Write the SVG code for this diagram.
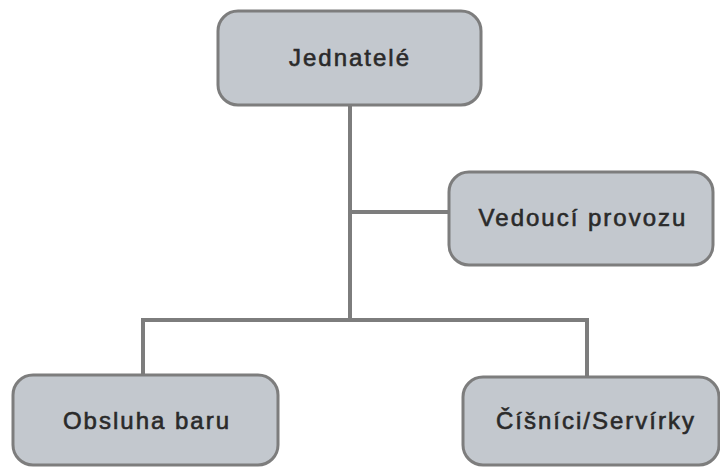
<svg xmlns="http://www.w3.org/2000/svg" width="720" height="467" viewBox="0 0 720 467">
<style>
.box{fill:#c3c8ce;stroke:#7d7d7d;stroke-width:3}
.lbl{font-family:"Liberation Sans",Arial,sans-serif;font-size:24px;letter-spacing:2px;fill:#2a2a2a;stroke:#2a2a2a;stroke-width:0.6;text-anchor:middle}
.conn{fill:none;stroke:#7d7d7d;stroke-width:4}
</style>
<rect width="720" height="467" fill="#ffffff"/>
<g id="connectors">
<path class="conn" d="M350 105 V320"/>
<path class="conn" d="M350 212 H448"/>
<path class="conn" d="M143 375 V320 H587 V377"/>
</g>
<g id="jednatele">
<rect class="box" x="218" y="11" width="263" height="94" rx="20"/>
<text class="lbl" x="350" y="66">Jednatelé</text>
</g>
<g id="vedouci">
<rect class="box" x="449" y="172" width="264" height="93" rx="20"/>
<text class="lbl" x="583" y="226">Vedoucí provozu</text>
</g>
<g id="obsluha">
<rect class="box" x="13" y="375" width="265" height="90" rx="20"/>
<text class="lbl" x="147" y="429">Obsluha baru</text>
</g>
<g id="cisnici">
<rect class="box" x="463" y="377" width="256" height="88" rx="20"/>
<text class="lbl" x="596" y="429">Číšníci/Servírky</text>
</g>
</svg>
